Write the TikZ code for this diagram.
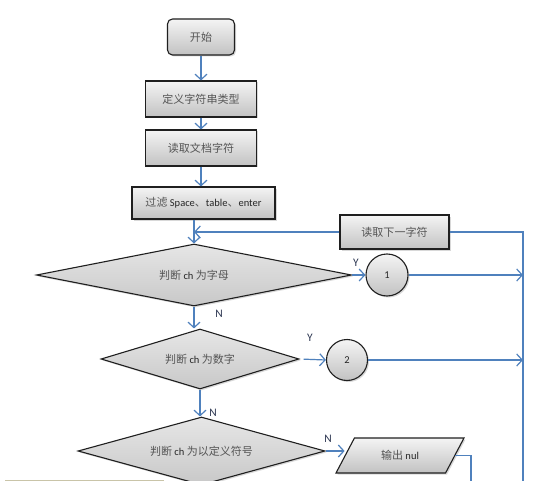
\documentclass[tikz,border=0pt]{standalone}
\usepackage{fontspec}
\setmainfont{Carlito}
\newfontfamily\cjk[Scale=1.05]{Noto Sans CJK SC}
\usetikzlibrary{shapes.geometric,arrows.meta,shadows}
\definecolor{arrowblue}{HTML}{4F81BD}
\definecolor{zhgray}{HTML}{555555}
\definecolor{lblcol}{HTML}{2B3550}
\definecolor{boxtop}{HTML}{F4F4F4}
\definecolor{boxbot}{HTML}{C2C2C2}
\definecolor{diatop}{HTML}{E6E6E6}
\definecolor{diabot}{HTML}{C8C8C8}
\definecolor{tanline}{HTML}{C9C4A8}
\definecolor{tanfill}{HTML}{FCFBF2}
\newcommand{\zh}[1]{{\cjk\color{zhgray}#1}}
\begin{document}
\begin{tikzpicture}[x=1pt,y=-1pt,
  base/.style={draw=black!88, line width=1.1pt, inner sep=0pt,
    font=\fontsize{10.5}{12}\selectfont, text=black!85,
    drop shadow={shadow xshift=1.5pt,shadow yshift=-1.5pt,opacity=0.3}},
  box/.style={base, rectangle, top color=boxtop, bottom color=boxbot},
  startbox/.style={box, rounded corners=5pt, minimum width=67, minimum height=36},
  dia/.style={base, diamond, top color=diatop, bottom color=diabot},
  circ/.style={base, circle, top color=boxtop, bottom color=boxbot},
  para/.style={base, trapezium, trapezium left angle=53, trapezium right angle=127,
    trapezium stretches=true, minimum width=128, minimum height=35,
    top color=boxtop, bottom color=boxbot},
  conn/.style={draw=arrowblue, line width=1.2pt, -{Straight Barb[length=5.5pt,width=12pt]}},
  plain/.style={draw=arrowblue, line width=1.2pt},
  lbl/.style={font=\fontsize{11.5}{12}\selectfont, text=lblcol, inner sep=0pt}]
\clip (0,0) rectangle (540,481);
\fill[white] (0,0) rectangle (540,481);

% nodes
\node[startbox] (start) at (201,37) {\zh{开始}};
\node[box, minimum width=111, minimum height=36] (def) at (201,99) {\zh{定义字符串类型}};
\node[box, minimum width=111, minimum height=36] (read) at (201,148) {\zh{读取文档字符}};
\node[box, minimum width=143, minimum height=32] (filter) at (203.5,203) {\zh{过滤} Space\zh{、}table\zh{、}enter};
\node[box, minimum width=109, minimum height=34] (next) at (394.5,232) {\zh{读取下一字符}};
\node[dia, shape aspect=5.1, minimum width=315, minimum height=62] (d1) at (194,275) {\zh{判断} ch \zh{为字母}};
\node[circ, minimum size=42] (c1) at (387,275) {1};
\node[dia, shape aspect=3.3, minimum width=198, minimum height=60] (d2) at (200,359) {\zh{判断} ch \zh{为数字}};
\node[circ, minimum size=41] (c2) at (347,360) {2};
\node[dia, shape aspect=3.6, minimum width=247, minimum height=68] (d3) at (201.5,451) {\zh{判断} ch \zh{为以定义符号}};
\node[para] (out) at (400,455.5) {\zh{输出} nul};

% labels
\node[lbl] (y1) at (356,263) {Y};
\node[lbl] (n1) at (219,314) {N};
\node[lbl] (y2) at (310,338) {Y};
\node[lbl] (n2) at (213,413) {N};
\node[lbl] (n3) at (328,439) {N};

% coordinates
\coordinate (R1) at (523,232);
\coordinate (Rb) at (523,490);
\coordinate (O2) at (471,490);

% connectors
\draw[conn] (start.south) -- (start.south |- def.north);
\draw[conn] (def.south) -- (def.south |- read.north);
\draw[conn] (read.south) -- (read.south |- filter.north);
\draw[conn] (d1.north |- filter.south) -- (d1.north);
\draw[conn] (next.west) -- (d1.north |- next.west);
\draw[plain] (next.east) -- (R1) -- (Rb);
\draw[conn] (d1.east) -- (c1.west);
\draw[conn] (c1.east) -- (c1.east -| R1);
\draw[conn] (d1.south) -- (d1.south |- d2.north);
\draw[conn, shorten <=4pt] (d2.east) -- (c2.west);
\draw[conn] (c2.east) -- (c2.east -| R1);
\draw[conn] (d2.south) -- (d2.south |- d3.north);
\draw[conn] (d3.east) -- (out.west |- d3.east);
\draw[plain] (out.east) -| (O2);

% partial box at bottom left
\draw[draw=tanline, fill=tanfill, line width=0.6pt] (5,480) rectangle (163,495);
\end{tikzpicture}
\end{document}
